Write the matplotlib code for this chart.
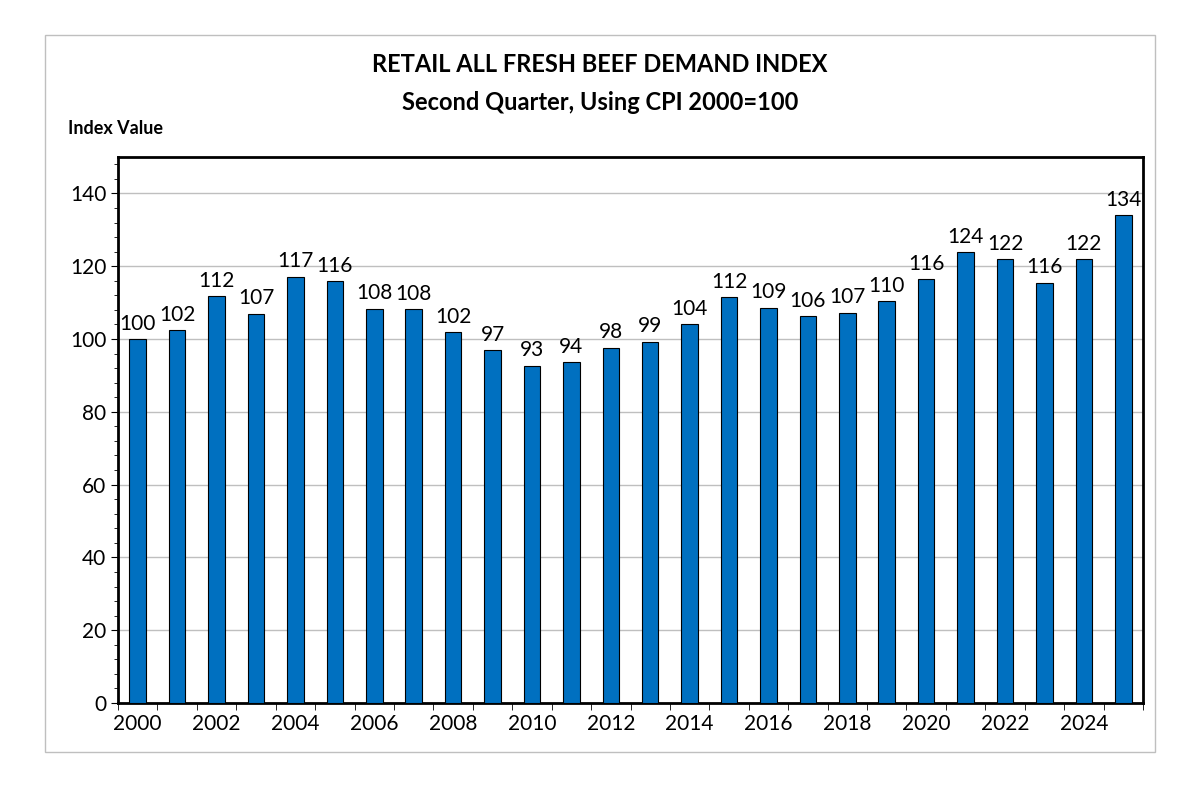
import matplotlib.pyplot as plt
from matplotlib.patches import Rectangle
from matplotlib.ticker import MultipleLocator

years = list(range(2000, 2026))
index_values = [100, 102.4, 111.8, 106.9, 117.1, 115.8, 108.3, 108.2, 101.8, 96.9,
                92.7, 93.6, 97.6, 99.2, 104.1, 111.5, 108.6, 106.3, 107.2, 110.4,
                116.4, 123.9, 121.9, 115.5, 121.9, 134.0]
tick_years = list(range(2000, 2026, 2))

plt.rcParams['font.family'] = ['Lato', 'DejaVu Sans']
fig = plt.figure(figsize=(12, 7.88), dpi=100)
fig.patches.append(Rectangle((45/1200, 1-752/788), 1110/1200, 717/788, transform=fig.transFigure,
                             fill=False, edgecolor='#bfbfbf', linewidth=1))
ax = fig.add_axes([118/1200, 1-703/788, 1025/1200, 546/788])

x = list(range(len(years)))
ax.bar(x, index_values, width=0.42, color='#0070c0', edgecolor='black', linewidth=0.8, zorder=3)
for xi, v in zip(x, index_values):
    ax.text(xi, v + 1.5, f"{round(v):d}", ha='center', va='bottom', fontsize=15)

ax.set_xlim(-0.5, len(years) - 0.5)
ax.set_ylim(0, 150)
ax.yaxis.set_major_locator(MultipleLocator(20))
ax.yaxis.set_minor_locator(MultipleLocator(4))
ax.set_yticks(range(0, 141, 20))
ax.grid(axis='y', color='#bfbfbf', linewidth=1, zorder=0)
ax.set_xticks([y - 2000 for y in tick_years])
ax.set_xticklabels([str(y) for y in tick_years])
ax.set_xticks([i - 0.5 for i in range(len(years) + 1)], minor=True)
ax.tick_params(axis='x', which='major', length=0, labelsize=15, pad=8)
ax.tick_params(axis='x', which='minor', length=5, direction='out')
ax.tick_params(axis='y', which='major', labelsize=15, length=5)
ax.tick_params(axis='y', which='minor', length=3)
for s in ax.spines.values():
    s.set_linewidth(2)

fig.text(0.5, 1-65/788, "RETAIL ALL FRESH BEEF DEMAND INDEX", ha='center', va='center',
         fontsize=17, fontweight='bold')
fig.text(0.5, 1-102/788, "Second Quarter, Using CPI 2000=100", ha='center', va='center',
         fontsize=17, fontweight='bold')
fig.text(68/1200, 1-128/788, "Index Value", ha='left', va='center', fontsize=13, fontweight='bold')

fig.savefig('out.png')
